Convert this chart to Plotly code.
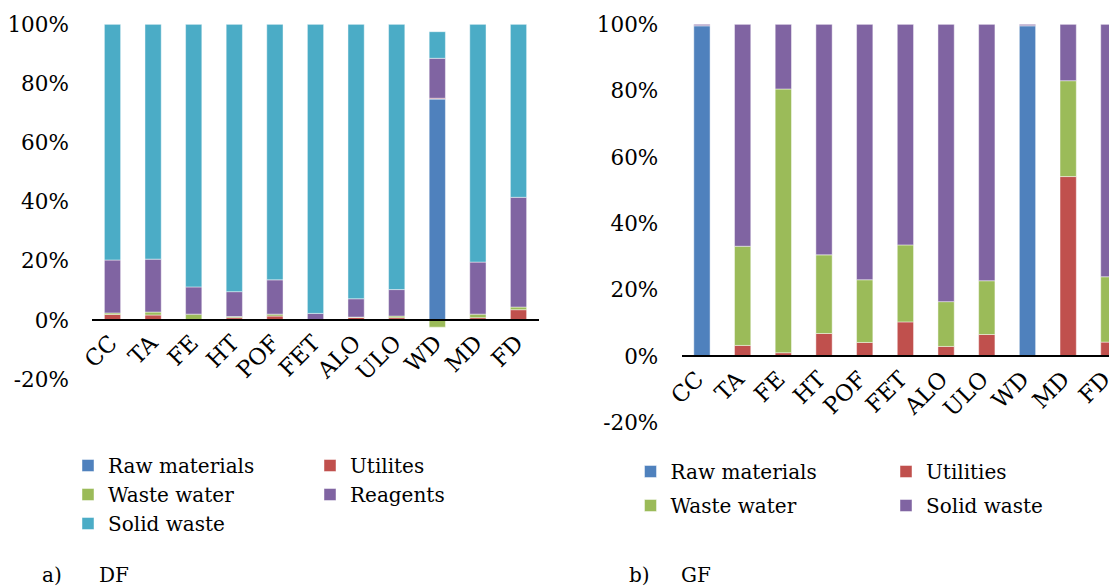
import plotly.graph_objects as go

categories = ["CC", "TA", "FE", "HT", "POF", "FET", "ALO", "ULO", "WD", "MD", "FD"]

# a) DF (percent)
df_raw = [0, 0, 0, 0, 0, 0, 0, 0, 74.7, 0, 0]
df_util = [1.9, 1.7, 0, 0.8, 1.35, 0, 0.9, 0.8, 0.3, 0.8, 3.5]
df_ww = [0.5, 1.0, 2.0, 0.4, 0.65, 0, 0.1, 0.55, -2.4, 1.2, 0.9]
df_reag = [17.9, 17.9, 9.2, 8.4, 11.6, 2.25, 6.2, 8.95, 13.5, 17.6, 37.1]
df_solid = [79.7, 79.4, 88.8, 90.4, 86.4, 97.75, 92.8, 89.7, 9.0, 80.4, 58.5]

# b) GF (percent)
gf_raw = [99.6, 0, 0, 0, 0, 0, 0, 0, 99.6, 0, 0]
gf_util = [0, 3.2, 1.0, 6.8, 4.1, 10.3, 2.9, 6.5, 0, 54.1, 4.2]
gf_ww = [0, 29.9, 79.5, 23.7, 18.9, 23.2, 13.5, 16.2, 0, 28.9, 19.7]
gf_solid = [0.4, 66.9, 19.5, 69.5, 77.0, 66.5, 83.6, 77.3, 0.4, 17.0, 76.1]

yticks = [-20, 0, 20, 40, 60, 80, 100]
ytick_text = ["-20%", "0%", "20%", "40%", "60%", "80%", "100%"]

C_RAW = "#4F81BD"
C_UTIL = "#C0504D"
C_WW = "#9BBB59"
C_REAG = "#8064A2"
C_SOLID = "#4BACC6"

FONT = "DejaVu Serif"
W, H = 1117, 586
OFF = 8  # page body margin

def py(px):
    return 1 - (px - OFF) / H

def pxx(px):
    return (px - OFF) / W

fig = go.Figure()

def add(name, vals, color, xa, ya, legend, group):
    fig.add_trace(go.Bar(
        x=categories, y=vals, name=name, marker_color=color,
        marker_line=dict(width=1, color="rgba(255,255,255,0.45)"),
        xaxis=xa, yaxis=ya, legend=legend, legendgroup=group,
        hovertemplate="%{x}: %{y:.1f}%<extra>" + name + "</extra>",
    ))

add("Raw materials", df_raw, C_RAW, "x", "y", "legend", "a1")
add("Utilites", df_util, C_UTIL, "x", "y", "legend2", "a2")
add("Waste water", df_ww, C_WW, "x", "y", "legend", "a3")
add("Reagents", df_reag, C_REAG, "x", "y", "legend2", "a4")
add("Solid waste", df_solid, C_SOLID, "x", "y", "legend", "a5")

add("Raw materials", gf_raw, C_RAW, "x2", "y2", "legend3", "b1")
add("Utilities", gf_util, C_UTIL, "x2", "y2", "legend4", "b2")
add("Waste water", gf_ww, C_WW, "x2", "y2", "legend3", "b3")
add("Solid waste", gf_solid, C_REAG, "x2", "y2", "legend4", "b4")

xtickfont = dict(family=FONT, size=22.5, color="black")
ytickfont = dict(family=FONT, size=21.5, color="black")
txtfont = dict(family=FONT, size=20, color="black")

xcommon = dict(
    type="category", tickangle=-45, tickfont=xtickfont, showgrid=False,
    showline=True, linecolor="black", linewidth=1.5, ticks="", anchor="free",
    fixedrange=True, automargin=False,
)
ycommon = dict(
    range=[-20, 100], tickvals=yticks, ticktext=ytick_text, tickfont=ytickfont,
    showgrid=False, zeroline=False, showline=False, ticks="outside",
    ticklen=18, tickcolor="rgba(0,0,0,0)", fixedrange=True, automargin=False,
)

legcommon = dict(
    font=txtfont, orientation="v",
    xanchor="left", yanchor="top", bgcolor="rgba(0,0,0,0)",
)

fig.update_layout(
    width=W, height=H,
    margin=dict(l=0, r=0, t=0, b=0, autoexpand=False),
    paper_bgcolor="white", plot_bgcolor="white",
    barmode="relative", bargap=0.6,
    showlegend=True,
    xaxis=dict(xcommon, domain=[pxx(92.2), pxx(538.8)], position=py(320),
               range=[-0.5, 10.5], ticklabelshift=-2),
    yaxis=dict(ycommon, domain=[py(379.2), py(24.3)], anchor="x"),
    xaxis2=dict(xcommon, domain=[pxx(681.6), pxx(1117)], position=py(356.3),
                range=[-0.5, 10.2], ticklabelshift=-5),
    yaxis2=dict(ycommon, domain=[py(422.4), py(24.3)], anchor="x2"),
    legend=dict(legcommon, x=pxx(68), y=py(446), traceorder="normal"),
    legend2=dict(legcommon, x=pxx(310), y=py(446), traceorder="normal"),
    legend3=dict(legcommon, x=pxx(630.5), y=py(452), traceorder="grouped", tracegroupgap=5),
    legend4=dict(legcommon, x=pxx(886), y=py(452), traceorder="grouped", tracegroupgap=5),
    annotations=[
        dict(text="a)", x=pxx(40), y=py(575), xref="paper", yref="paper",
             xanchor="left", yanchor="middle", showarrow=False, font=txtfont),
        dict(text="DF", x=pxx(97), y=py(575), xref="paper", yref="paper",
             xanchor="left", yanchor="middle", showarrow=False, font=txtfont),
        dict(text="b)", x=pxx(627), y=py(575), xref="paper", yref="paper",
             xanchor="left", yanchor="middle", showarrow=False, font=txtfont),
        dict(text="GF", x=pxx(679), y=py(575), xref="paper", yref="paper",
             xanchor="left", yanchor="middle", showarrow=False, font=txtfont),
    ],
)

fig.write_html("out.html")
